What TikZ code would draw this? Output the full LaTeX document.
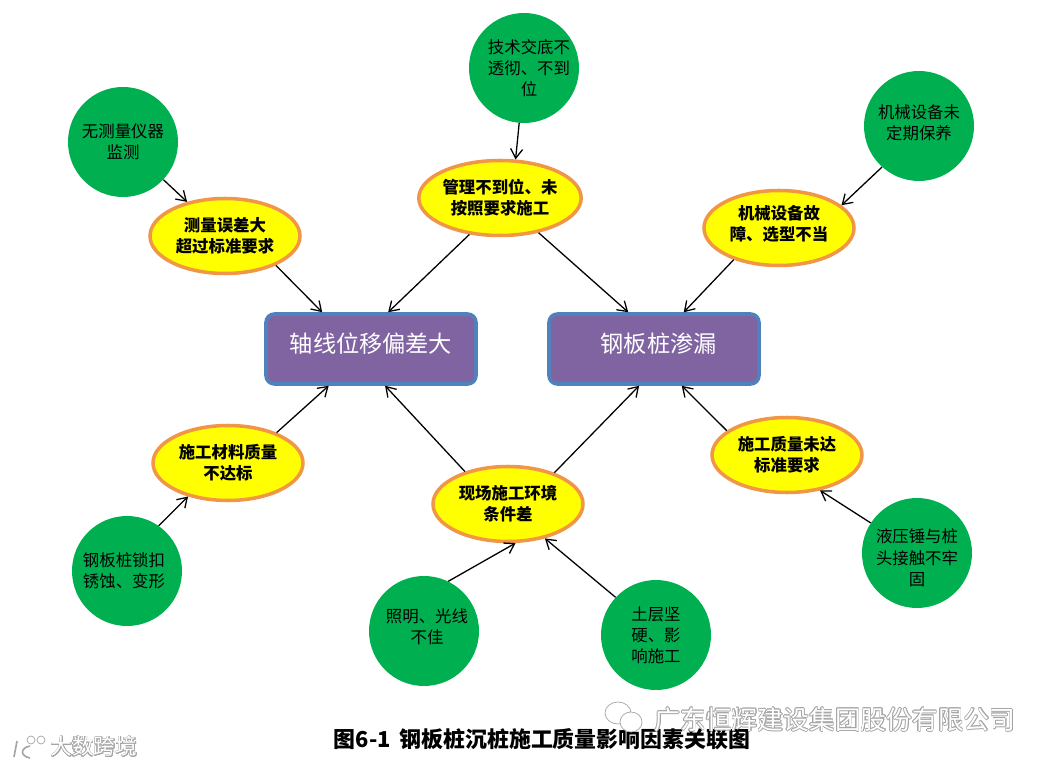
\documentclass[tikz,border=0pt]{standalone}
\usepackage{fontspec}
\setmainfont{Noto Sans CJK SC}
\usepackage{tikz}
\usepackage[copies]{contour}
\usetikzlibrary{arrows.meta,shapes}
\contourlength{0.5pt}
\definecolor{causegreen}{RGB}{0,176,80}
\definecolor{rimorange}{RGB}{240,150,70}
\definecolor{factoryellow}{RGB}{255,255,0}
\definecolor{boxpurple}{RGB}{128,100,162}
\definecolor{boxblue}{RGB}{79,129,189}
\definecolor{markgray}{RGB}{165,165,165}
\tikzset{
    cause/.style={circle,fill=causegreen,minimum size=110*0.03cm,inner sep=0pt,align=center,font=\fontsize{14}{18}\selectfont},
    factor/.style={ellipse,draw=rimorange,line width=3pt,fill=factoryellow,minimum width=150*0.03cm,minimum height=75*0.03cm,inner sep=0pt,align=center,font=\fontsize{14}{18}\selectfont\bfseries},
    effect/.style={rectangle,rounded corners=2.5mm,draw=boxblue,line width=3pt,fill=boxpurple,text=white,minimum width=210*0.03cm,minimum height=70*0.03cm,inner sep=0pt,text depth=12*0.03cm,font=\fontsize{19.8}{24}\selectfont},
    link/.style={->,line width=1.1pt},
    wring/.style={draw=markgray,line width=0.6pt,fill=white},
}
\begin{document}
\begin{tikzpicture}[x=0.03cm,y=-0.03cm,>={Straight Barb[length=2.8mm,width=3.6mm]}]
            \useasboundingbox (0,0) rectangle (1051,767);
            \node [effect] (axis) at (371,349) {轴线位移偏差大};
            \node [effect] (seep) at (654,349) {\hspace{0.4em}钢板桩渗漏};
            \node [factor] (survey) at (225,236) {测量误差大\\超过标准要求};
            \node [factor] (manage) at (500,198) {管理不到位、未\\按照要求施工};
            \node [factor] (fault) at (779,228) {机械设备故\\障、选型不当\rule[-8pt]{0pt}{0pt}};
            \node [factor] (material) at (228,463) {施工材料质量\\不达标};
            \node [factor] (site) at (508,504) {现场施工环境\\条件差};
            \node [factor] (quality) at (787,455) {施工质量未达\\标准要求};
            \node [cause] (meter) at (123,142) {无测量仪器\\监测};
            \node [cause] (brief) at (524,68) {\hspace*{0.3cm}技术交底不\\\hspace*{0.3cm}透彻、不到\\\hspace*{0.3cm}位};
            \node [cause] (upkeep) at (919,126) {机械设备未\\定期保养\rule[-6pt]{0pt}{0pt}};
            \node [cause] (rust) at (127,571) {钢板桩锁扣\hspace*{0.18cm}\\锈蚀、变形\hspace*{0.18cm}};
            \node [cause] (light) at (424,631) {\hspace*{0.18cm}照明、光线\\\hspace*{0.18cm}不佳\rule[-8pt]{0pt}{0pt}};
            \node [cause] (soil) at (656,635) {土层坚\\硬、影\\响施工};
            \node [cause] (hammer) at (917,553) {\rule{0pt}{20pt}液压锤与桩\\头接触不牢\\固};
            \draw [link] (brief.-95) -- (manage.68);
            \draw [link] (meter.-43) -- (survey.138);
            \draw [link] (upkeep.-132) -- (fault.20);
            \draw [link] (rust.55) -- (material.-140);
            \draw [link] (hammer.147) -- (quality.-47);
            \draw [link] (light.64) -- (site.-79);
            \draw [link] (soil.137) -- (site.-43);
            \draw [link] (survey.-30) -- (axis.143);
            \draw [link] (manage.-130) -- (axis.65);
            \draw [link] (manage.-42) -- (seep.125);
            \draw [link] (fault.-145) -- (seep.51);
            \draw [link] (material.32) -- (axis.-139);
            \draw [link] (site.143) -- (axis.-69);
            \draw [link] (site.34) -- (seep.-112);
            \draw [link] (quality.158) -- (seep.-53);
            \node [font=\fontsize{18.7}{22}\selectfont\bfseries] (caption) at (542,739) {图6-1\hspace{0.4em}钢板桩沉桩施工质量影响因素关联图};
            \node [font=\fontsize{22}{26}\selectfont] (company) at (835,720) {\contour{markgray}{\textcolor{white}{广东恒辉建设集团股份有限公司}}};
            \node [font=\fontsize{18.5}{22}\selectfont] (brand) at (94,747) {\contour{markgray}{\textcolor{white}{大数跨境}}};
            \draw [wring] (618,713) ellipse (13 and 11);
            \draw [wring] (631,722) ellipse (11 and 10);
            \draw [wring] (31,740) circle (4);
            \draw [wring] (41,740) circle (4);
            \draw [markgray,line width=1.4pt] (17,741) -- (14,757) (30,746) .. controls (20,748) and (20,756) .. (30,758);
        \end{tikzpicture}
\end{document}
